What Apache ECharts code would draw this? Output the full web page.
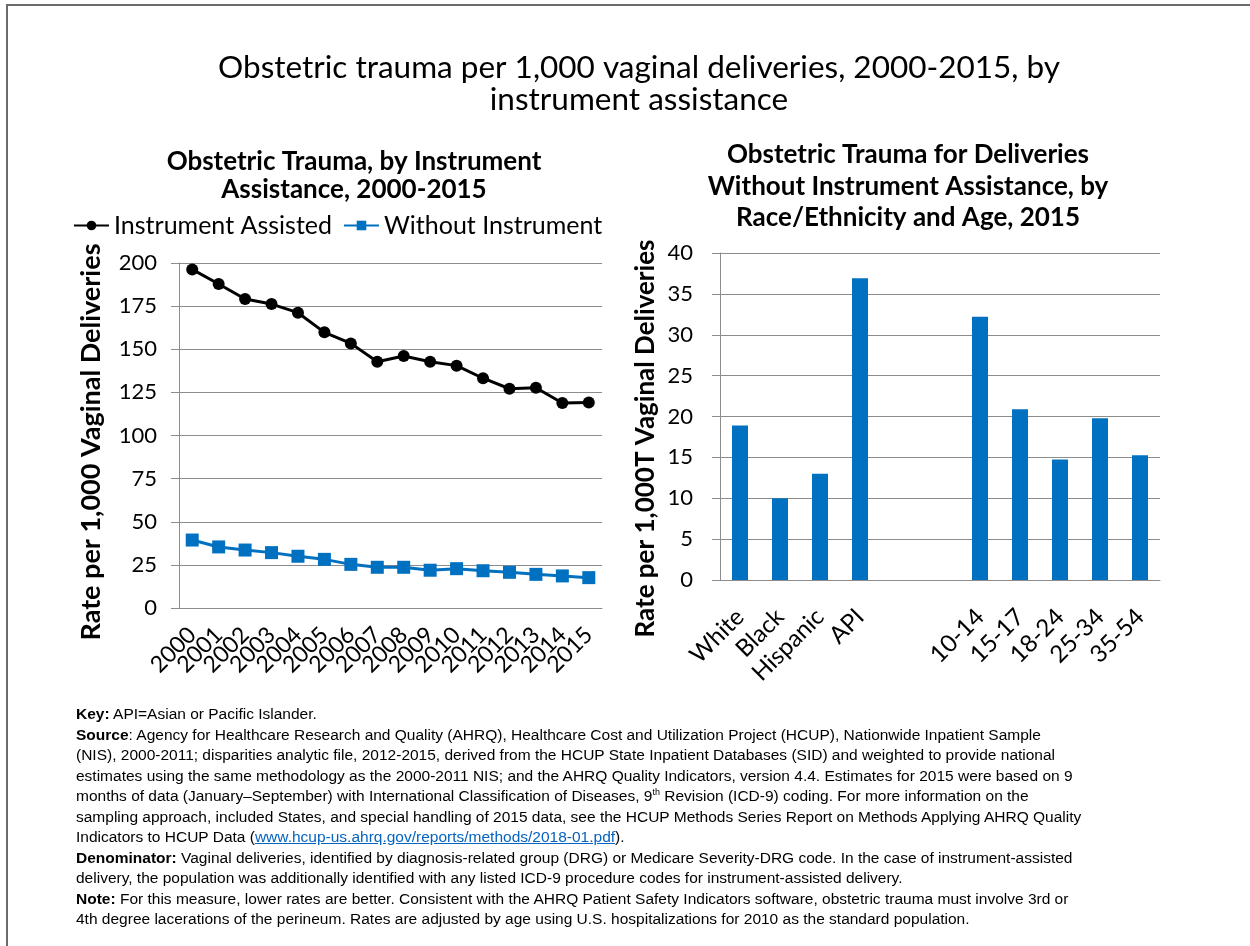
<!DOCTYPE html>
<html>
<head>
<meta charset="utf-8">
<script src="https://cdn.jsdelivr.net/npm/echarts@6/dist/echarts.min.js"></script>
<style>
  html, body { margin: 0; padding: 0; background: #fff; }
  #chart { position: absolute; left: 0; top: 0; width: 1250px; height: 946px; }
  .frame-top { position: absolute; left: 6px; top: 4px; width: 1244px; border-top: 2px solid #6b6b6b; }
  .frame-left { position: absolute; left: 6px; top: 4px; height: 942px; border-left: 2px solid #6b6b6b; }
  #notes {
    position: absolute; left: 76px; top: 704px;
    font-family: "Liberation Sans", Arial, sans-serif; font-size: 15.5px; line-height: 20.5px;
    color: #000; white-space: nowrap;
  }
  #notes a { color: #0563c1; text-decoration: underline; }
  #notes sup { font-size: 9px; line-height: 0; }
</style>
</head>
<body>
<div id="chart"></div>
<div class="frame-top"></div>
<div class="frame-left"></div>
<div id="notes">
  <b>Key:</b> API=Asian or Pacific Islander.<br>
  <b>Source</b>: Agency for Healthcare Research and Quality (AHRQ), Healthcare Cost and Utilization Project (HCUP), Nationwide Inpatient Sample<br>
  (NIS), 2000-2011; disparities analytic file, 2012-2015, derived from the HCUP State Inpatient Databases (SID) and weighted to provide national<br>
  estimates using the same methodology as the 2000-2011 NIS; and the AHRQ Quality Indicators, version 4.4. Estimates for 2015 were based on 9<br>
  months of data (January–September) with International Classification of Diseases, 9<sup>th</sup> Revision (ICD-9) coding. For more information on the<br>
  sampling approach, included States, and special handling of 2015 data, see the HCUP Methods Series Report on Methods Applying AHRQ Quality<br>
  Indicators to HCUP Data (<a>www.hcup-us.ahrq.gov/reports/methods/2018-01.pdf</a>).<br>
  <b>Denominator:</b> Vaginal deliveries, identified by diagnosis-related group (DRG) or Medicare Severity-DRG code. In the case of instrument-assisted<br>
  delivery, the population was additionally identified with any listed ICD-9 procedure codes for instrument-assisted delivery.<br>
  <b>Note:</b> For this measure, lower rates are better. Consistent with the AHRQ Patient Safety Indicators software, obstetric trauma must involve 3rd or<br>
  4th degree lacerations of the perineum. Rates are adjusted by age using U.S. hospitalizations for 2010 as the standard population.
</div>
<script>
// left chart: rate per 1,000 vaginal deliveries by year
const years = ['2000', '2001', '2002', '2003', '2004', '2005', '2006', '2007',
               '2008', '2009', '2010', '2011', '2012', '2013', '2014', '2015'];
const instrumentAssisted = [196.3, 187.8, 179.1, 176.2, 171.2, 159.8, 153.4, 142.8,
                            146.1, 142.8, 140.5, 133.2, 127.1, 127.7, 118.8, 119.1];
const withoutInstrument = [39.4, 35.4, 33.6, 32.1, 30.0, 28.2, 25.3, 23.6,
                           23.6, 21.9, 22.8, 21.6, 20.7, 19.5, 18.6, 17.6];

// right chart: without instrument, 2015 (two empty slots between race and age)
const groups = ['White', 'Black', 'Hispanic', 'API', ' ', '  ',
                '10-14', '15-17', '18-24', '25-34', '35-54'];
const groupRates = [18.9, 10.0, 13.0, 36.9, null, null, 32.2, 20.9, 14.75, 19.8, 15.25];

const FONT = 'Lato, "Open Sans", sans-serif';
const GRID_GRAY = '#8c8c8c';

const chart = echarts.init(document.getElementById('chart'));

const option = {
  backgroundColor: 'transparent',
  textStyle: { fontFamily: FONT, color: '#000' },
  title: [
    {
      text: 'Obstetric trauma per 1,000 vaginal deliveries, 2000-2015, by\ninstrument assistance',
      left: 634, top: 47, textAlign: 'center',
      textStyle: { fontFamily: FONT, fontWeight: 'normal', fontSize: 31.5, lineHeight: 32, color: '#000' }
    },
    {
      text: 'Obstetric Trauma, by Instrument\nAssistance, 2000-2015',
      left: 349, top: 143, textAlign: 'center',
      textStyle: { fontFamily: FONT, fontWeight: 'bold', fontSize: 26, lineHeight: 28, color: '#000' }
    },
    {
      text: 'Obstetric Trauma for Deliveries\nWithout Instrument Assistance, by\nRace/Ethnicity and Age, 2015',
      left: 903, top: 134, textAlign: 'center',
      textStyle: { fontFamily: FONT, fontWeight: 'bold', fontSize: 26, lineHeight: 31.5, color: '#000' }
    }
  ],
  legend: {
    left: 68, top: 208,
    itemWidth: 35, itemHeight: 12, itemGap: 11,
    textStyle: { fontFamily: FONT, fontSize: 25, color: '#000' },
    data: ['Instrument Assisted', 'Without Instrument']
  },
  grid: [
    { left: 179, top: 263, width: 423, height: 345 },
    { left: 720, top: 253, width: 440, height: 327 }
  ],
  xAxis: [
    {
      gridIndex: 0, type: 'category', data: years, boundaryGap: true,
      axisLine: { lineStyle: { color: GRID_GRAY } },
      axisTick: { interval: 0, length: 7, lineStyle: { color: GRID_GRAY } },
      axisLabel: { interval: 0, rotate: 45, fontSize: 23, color: '#000', margin: 23 }
    },
    {
      gridIndex: 1, type: 'category', data: groups, boundaryGap: true,
      axisLine: { lineStyle: { color: GRID_GRAY } },
      axisTick: { interval: 0, length: 7, lineStyle: { color: GRID_GRAY } },
      axisLabel: { interval: 0, rotate: 45, fontSize: 24, color: '#000', margin: 33 }
    }
  ],
  yAxis: [
    {
      gridIndex: 0, type: 'value', min: 0, max: 200, interval: 25,
      name: 'Rate per 1,000 Vaginal Deliveries', nameLocation: 'middle', nameGap: 74,
      nameTextStyle: { fontFamily: FONT, fontWeight: 'bold', fontSize: 27, color: '#000', padding: [0, 13, 0, 0] },
      axisLine: { show: true, lineStyle: { color: GRID_GRAY } },
      axisTick: { show: true, length: 8, lineStyle: { color: GRID_GRAY } },
      splitLine: { lineStyle: { color: GRID_GRAY } },
      axisLabel: { fontSize: 22, color: '#000', margin: 22 }
    },
    {
      gridIndex: 1, type: 'value', min: 0, max: 40, interval: 5,
      name: 'Rate per 1,000T Vaginal Deliveries', nameLocation: 'middle', nameGap: 61,
      nameTextStyle: { fontFamily: FONT, fontWeight: 'bold', fontSize: 26, color: '#000', padding: [0, 44, 0, 0] },
      axisLine: { show: true, lineStyle: { color: GRID_GRAY } },
      axisTick: { show: true, length: 8, lineStyle: { color: GRID_GRAY } },
      splitLine: { lineStyle: { color: GRID_GRAY } },
      axisLabel: { fontSize: 22, color: '#000', margin: 27 }
    }
  ],
  series: [
    {
      name: 'Instrument Assisted', type: 'line', xAxisIndex: 0, yAxisIndex: 0,
      data: instrumentAssisted,
      symbol: 'circle', symbolSize: 12,
      lineStyle: { color: '#000', width: 3 },
      itemStyle: { color: '#000' }
    },
    {
      name: 'Without Instrument', type: 'line', xAxisIndex: 0, yAxisIndex: 0,
      data: withoutInstrument,
      symbol: 'rect', symbolSize: 13,
      lineStyle: { color: '#0070c0', width: 3 },
      itemStyle: { color: '#0070c0' }
    },
    {
      name: 'By group', type: 'bar', xAxisIndex: 1, yAxisIndex: 1,
      data: groupRates, barWidth: 16,
      itemStyle: { color: '#0070c0' }
    }
  ]
};

chart.setOption(option);
</script>
</body>
</html>
